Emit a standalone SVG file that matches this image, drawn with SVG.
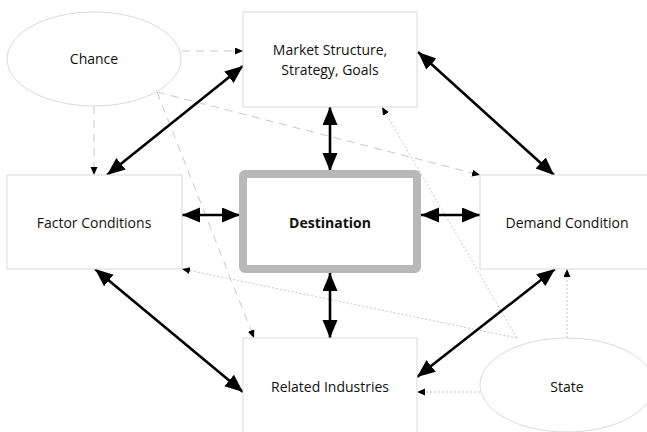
<svg xmlns="http://www.w3.org/2000/svg" width="647" height="432" viewBox="0 0 647 432">
<defs>
<style>
.box{fill:#fff;stroke:#d9d9d9;stroke-width:1}
.oval{fill:#fff;stroke:#d9d9d9;stroke-width:1}
.lbl{font-family:"Open Sans","Liberation Sans",sans-serif;font-size:14px;fill:#111;text-anchor:middle}
.bold{font-weight:bold}
.solid{stroke:#000;stroke-width:2.6;fill:none;marker-start:url(#big);marker-end:url(#big)}
.dash{stroke:#c8c8c8;stroke-width:1;fill:none;stroke-dasharray:8 6;marker-end:url(#small)}
.dot{stroke:#c8c8c8;stroke-width:1;fill:none;stroke-dasharray:2 2;marker-end:url(#small)}
</style>
<marker id="big" markerUnits="userSpaceOnUse" markerWidth="20" markerHeight="16" refX="18" refY="7.5" orient="auto-start-reverse" viewBox="0 0 20 16">
<path d="M0,0 L18,7.5 L0,15 z" fill="#000"/>
</marker>
<marker id="small" markerUnits="userSpaceOnUse" markerWidth="10" markerHeight="8" refX="8" refY="3.5" orient="auto" viewBox="0 0 10 8">
<path d="M0,0 L8,3.5 L0,7 z" fill="#000"/>
</marker>
</defs>
<rect width="647" height="432" fill="#fff"/>
<g id="connectors">
<line class="dash" x1="182" y1="51" x2="243" y2="51"/>
<line class="dash" x1="94" y1="106" x2="94" y2="175"/>
<line class="dash" x1="157" y1="92" x2="254" y2="338"/>
<line class="dash" x1="157" y1="92" x2="480" y2="175"/>
<line class="dot" x1="517" y1="338" x2="382" y2="107"/>
<line class="dot" x1="517" y1="338" x2="182" y2="269"/>
<line class="dot" x1="480" y1="392" x2="417" y2="392"/>
<line class="dot" x1="567" y1="338" x2="567" y2="269"/>
<line class="solid" x1="107" y1="175" x2="243" y2="66"/>
<line class="solid" x1="418" y1="52" x2="554" y2="175"/>
<line class="solid" x1="330" y1="107" x2="330" y2="171"/>
<line class="solid" x1="182" y1="215" x2="240" y2="215"/>
<line class="solid" x1="421" y1="215" x2="480" y2="215"/>
<line class="solid" x1="330" y1="273" x2="330" y2="338"/>
<line class="solid" x1="95" y1="269" x2="243" y2="392"/>
<line class="solid" x1="417" y1="377" x2="555" y2="269"/>
</g>
<g id="chance">
<ellipse class="oval" cx="94" cy="59" rx="87" ry="47"/>
<text class="lbl" x="94" y="64">Chance</text>
</g>
<g id="market">
<rect class="box" x="243" y="12" width="174" height="95"/>
<text class="lbl" x="330" y="55">Market Structure,</text>
<text class="lbl" x="330" y="75">Strategy, Goals</text>
</g>
<g id="factor">
<rect class="box" x="7" y="175" width="175" height="94"/>
<text class="lbl" x="94" y="228">Factor Conditions</text>
</g>
<g id="destination">
<rect x="243" y="174" width="174" height="95" rx="2" fill="#fff" stroke="#b8b8b8" stroke-width="8"/>
<text class="lbl bold" x="330" y="228">Destination</text>
</g>
<g id="demand">
<rect class="box" x="480" y="175" width="174" height="94"/>
<text class="lbl" x="567" y="228">Demand Condition</text>
</g>
<g id="related">
<rect class="box" x="243" y="338" width="174" height="95"/>
<text class="lbl" x="330" y="392">Related Industries</text>
</g>
<g id="state">
<ellipse class="oval" cx="567" cy="385" rx="87" ry="47"/>
<text class="lbl" x="567" y="392">State</text>
</g>
</svg>
